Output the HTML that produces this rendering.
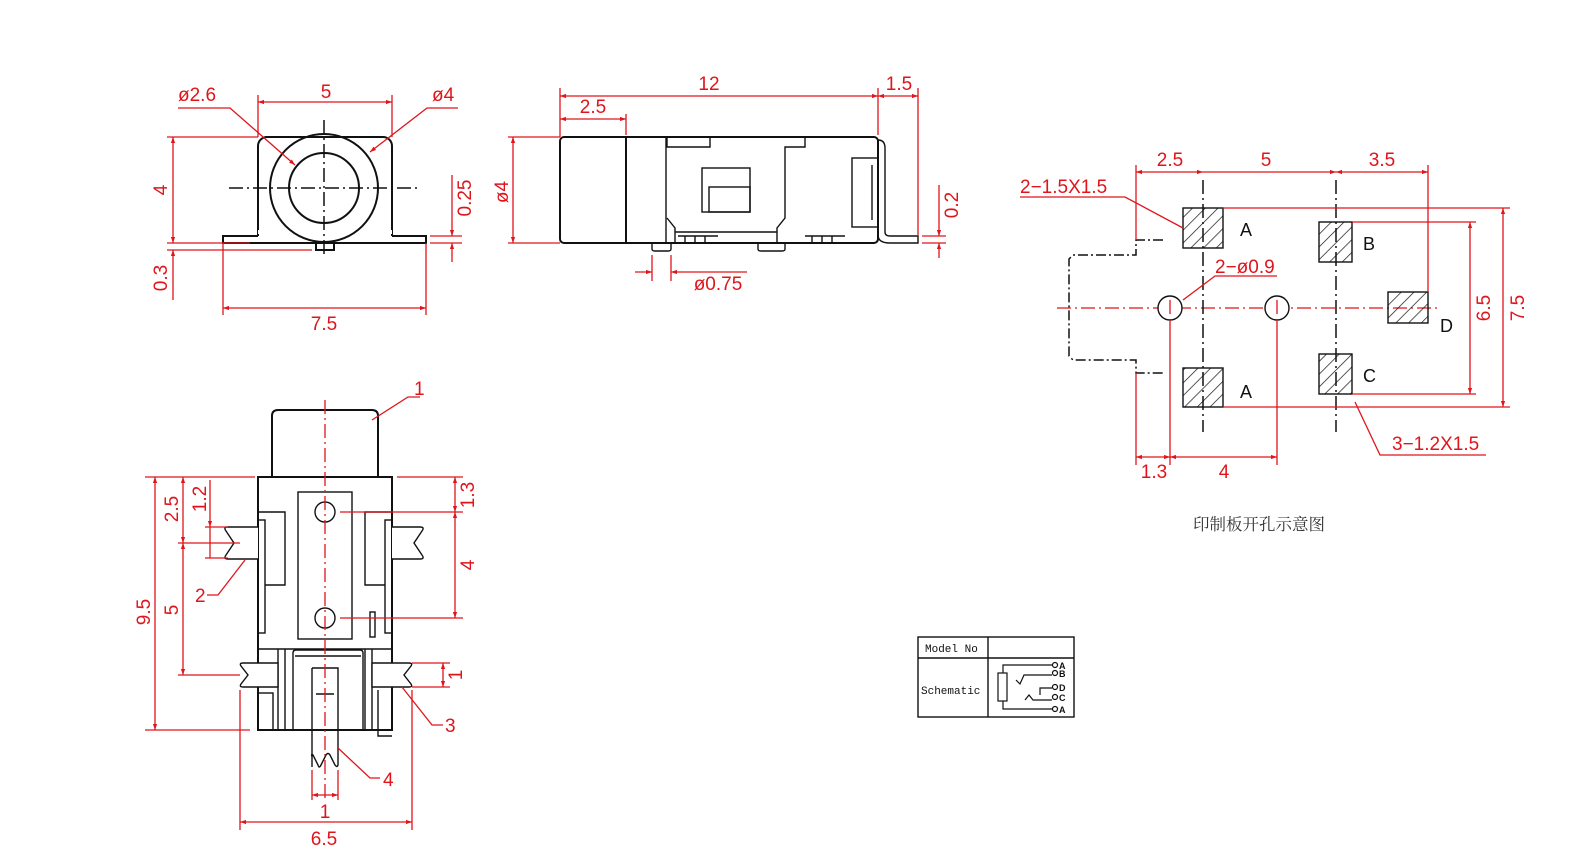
<!DOCTYPE html>
<html><head><meta charset="utf-8"><style>
html,body{margin:0;padding:0;background:#fff}
svg{display:block}
.k{stroke:#111;stroke-width:2;fill:none}
.kt{stroke:#111;stroke-width:1.4;fill:none}
.r{stroke:#e0151b;stroke-width:1.3;fill:none}
.cl{stroke:#111;stroke-width:1.5;fill:none;stroke-dasharray:14 4 2 4}
.rcl{stroke:#e0151b;stroke-width:1.3;fill:none;stroke-dasharray:14 4 2 4}
.dl{stroke:#111;stroke-width:1.5;fill:none;stroke-dasharray:10 3 2 3}
text{font-family:"Liberation Sans",sans-serif}
.t{fill:#e0151b;font-size:19px}
.b{fill:#111;font-size:18px}
</style></head><body>
<svg width="1596" height="862" viewBox="0 0 1596 862" xmlns="http://www.w3.org/2000/svg">
<defs>
<marker id="a" viewBox="0 0 10 10" refX="10" refY="5" markerWidth="10" markerHeight="6" orient="auto-start-reverse" markerUnits="userSpaceOnUse"><path d="M0,1.5 L10,5 L0,8.5 z" fill="#e0151b"/></marker>
<pattern id="h" width="9" height="9" patternUnits="userSpaceOnUse" patternTransform="rotate(45)"><line x1="0" y1="0" x2="0" y2="9" stroke="#111" stroke-width="1.4"/></pattern>
</defs>

<!-- ===== FRONT VIEW ===== -->
<rect x="258" y="137" width="134" height="106" rx="9" class="k"/>
<rect x="223" y="236" width="203" height="7" class="k" style="fill:#fff"/>
<rect x="258" y="230" width="134" height="13" fill="#fff"/>
<path d="M258,236 V234 M392,236 V234" class="k"/>
<line x1="258" y1="243" x2="392" y2="243" class="k"/>
<rect x="316" y="243" width="18" height="7" class="k"/>
<circle cx="324" cy="188" r="54" class="k"/>
<circle cx="324" cy="188" r="35" class="k"/>
<line x1="229" y1="188" x2="419" y2="188" class="cl"/>
<line x1="324" y1="120" x2="324" y2="258" class="cl"/>
<line x1="258" y1="95" x2="258" y2="137" class="r"/><line x1="392" y1="95" x2="392" y2="137" class="r"/>
<line x1="258" y1="102" x2="392" y2="102" class="r" marker-start="url(#a)" marker-end="url(#a)"/>
<text x="326" y="98" class="t" text-anchor="middle">5</text>
<text x="178" y="101" class="t">ø2.6</text>
<polyline points="178,108 230,108 295,165" class="r" marker-end="url(#a)"/>
<text x="432" y="101" class="t">ø4</text>
<polyline points="458,108 427,108 370,152" class="r" marker-end="url(#a)"/>
<line x1="167" y1="137" x2="258" y2="137" class="r"/>
<line x1="167" y1="243" x2="250" y2="243" class="r"/>
<line x1="167" y1="250" x2="312" y2="250" class="r"/>
<line x1="173" y1="137" x2="173" y2="243" class="r" marker-start="url(#a)" marker-end="url(#a)"/>
<text transform="translate(167,190) rotate(-90)" class="t" text-anchor="middle">4</text>
<line x1="173" y1="250" x2="173" y2="300" class="r" marker-start="url(#a)"/>
<text transform="translate(167,278) rotate(-90)" class="t" text-anchor="middle">0.3</text>
<line x1="223" y1="243" x2="223" y2="315" class="r"/><line x1="426" y1="243" x2="426" y2="315" class="r"/>
<line x1="223" y1="308" x2="426" y2="308" class="r" marker-start="url(#a)" marker-end="url(#a)"/>
<text x="324" y="330" class="t" text-anchor="middle">7.5</text>
<line x1="430" y1="236" x2="462" y2="236" class="r"/><line x1="430" y1="243" x2="462" y2="243" class="r"/>
<line x1="452" y1="175" x2="452" y2="236" class="r" marker-end="url(#a)"/>
<line x1="452" y1="262" x2="452" y2="243" class="r" marker-end="url(#a)"/>
<text transform="translate(471,198) rotate(-90)" class="t" text-anchor="middle">0.25</text>

<!-- ===== SIDE VIEW ===== -->
<rect x="560" y="137" width="318" height="106" rx="4" class="k"/>
<line x1="626" y1="137" x2="626" y2="243" class="k"/>
<line x1="666" y1="137" x2="666" y2="243" class="kt"/>
<polyline points="667,137 667,147 710,147 710,137" class="kt"/>
<polyline points="805,137 805,147 785,147 785,218 777,228 777,243" class="kt"/>
<polyline points="667,218 675,228 675,243" class="kt"/>
<rect x="702" y="168" width="48" height="44" class="kt"/>
<rect x="709" y="187" width="41" height="25" class="kt"/>
<rect x="852" y="158" width="26" height="69" class="kt"/>
<line x1="872" y1="165" x2="872" y2="220" class="kt"/>
<line x1="675" y1="232" x2="777" y2="232" class="kt"/>
<path d="M678,236 h40 M805,236 h40" class="kt"/>
<path d="M685,236 v7 M695,236 v7 M705,236 v7 M812,236 v7 M822,236 v7 M832,236 v7" class="kt" />
<path d="M878,140 q7,0 7,8 V232 q0,4 5,4 H918 V243 H890 q-12,0 -12,-8" class="kt"/>
<path d="M652,243 v6 q0,2 3,2 h13 q3,0 3,-2 v-6" class="kt"/>
<path d="M758,243 v6 q0,2 3,2 h21 q3,0 3,-2 v-6" class="kt"/>
<line x1="560" y1="88" x2="560" y2="137" class="r"/>
<line x1="878" y1="88" x2="878" y2="135" class="r"/>
<line x1="918" y1="88" x2="918" y2="236" class="r"/>
<line x1="560" y1="96" x2="878" y2="96" class="r" marker-start="url(#a)" marker-end="url(#a)"/>
<text x="709" y="90" class="t" text-anchor="middle">12</text>
<line x1="878" y1="96" x2="918" y2="96" class="r" marker-start="url(#a)" marker-end="url(#a)"/>
<text x="899" y="90" class="t" text-anchor="middle">1.5</text>
<line x1="626" y1="114" x2="626" y2="135" class="r"/>
<line x1="560" y1="119" x2="626" y2="119" class="r" marker-start="url(#a)" marker-end="url(#a)"/>
<text x="593" y="113" class="t" text-anchor="middle">2.5</text>
<line x1="508" y1="137" x2="560" y2="137" class="r"/><line x1="508" y1="243" x2="560" y2="243" class="r"/>
<line x1="513" y1="137" x2="513" y2="243" class="r" marker-start="url(#a)" marker-end="url(#a)"/>
<text transform="translate(508,192) rotate(-90)" class="t" text-anchor="middle">ø4</text>
<line x1="652" y1="255" x2="652" y2="281" class="r"/><line x1="671" y1="255" x2="671" y2="281" class="r"/>
<line x1="635" y1="272" x2="652" y2="272" class="r" marker-end="url(#a)"/>
<line x1="747" y1="272" x2="671" y2="272" class="r" marker-end="url(#a)"/>
<text x="718" y="290" class="t" text-anchor="middle">ø0.75</text>
<line x1="922" y1="236" x2="946" y2="236" class="r"/><line x1="922" y1="243" x2="946" y2="243" class="r"/>
<line x1="939" y1="185" x2="939" y2="236" class="r" marker-end="url(#a)"/>
<line x1="939" y1="258" x2="939" y2="243" class="r" marker-end="url(#a)"/>
<text transform="translate(958,205) rotate(-90)" class="t" text-anchor="middle">0.2</text>

<!-- ===== BOTTOM VIEW ===== -->
<path d="M272,477 V416 q0,-6 6,-6 H372 q6,0 6,6 V477" class="k"/>
<rect x="258" y="477" width="134" height="253" class="k"/>
<rect x="298" y="492" width="54" height="147" class="kt"/>
<circle cx="325" cy="512" r="10" class="kt"/>
<circle cx="325" cy="618" r="10" class="kt"/>
<polyline points="258,512 285,512 285,585 265,585" class="kt"/>
<rect x="258" y="520" width="7" height="113" class="kt"/>
<polyline points="392,512 365,512 365,585 385,585" class="kt"/>
<rect x="385" y="520" width="7" height="113" class="kt"/>
<rect x="370" y="612" width="5" height="25" class="kt"/>
<path d="M258,527 H228 q-5,0 -2,4 l8,12 l-8,12 q-3,4 2,4 H258" class="kt" style="fill:#fff"/>
<path d="M392,527 H420 q5,0 2,4 l-8,12 l8,12 q3,4 -2,4 H392" class="kt" style="fill:#fff"/>
<line x1="258" y1="649" x2="392" y2="649" class="kt"/>
<path d="M278,649 V730 M285,649 V730 M365,649 V730 M372,649 V730" class="kt"/>
<path d="M293,730 V653 q0,-3 3,-3 H360 q3,0 3,3 V730" class="kt"/>
<line x1="295" y1="656" x2="361" y2="656" class="kt"/>
<path d="M258,663 H243 q-4,0 -2,3 l7,9 l-7,9 q-2,3 2,3 H278 V663 z" class="kt" style="fill:#fff"/>
<path d="M372,663 H409 q4,0 2,3 l-7,9 l7,9 q2,3 -2,3 H372 z" class="kt" style="fill:#fff"/>
<rect x="258" y="693" width="15" height="37" class="kt"/>
<polyline points="378,690 378,736 392,736" class="kt"/>
<path d="M312,668 H338 V765 q-1,3 -3,0 l-5,-10 q-2,-3 -4,0 l-5,10 q-2,4 -3,0 l-5,-10 q-2,-2 -1,2 M312,668 V767" class="kt"/>
<line x1="316" y1="694" x2="334" y2="694" class="kt"/>
<line x1="325" y1="400" x2="325" y2="800" class="rcl"/>
<line x1="145" y1="477" x2="255" y2="477" class="r"/>
<line x1="145" y1="730" x2="250" y2="730" class="r"/>
<line x1="155" y1="477" x2="155" y2="730" class="r" marker-start="url(#a)" marker-end="url(#a)"/>
<text transform="translate(150,612) rotate(-90)" class="t" text-anchor="middle">9.5</text>
<line x1="178" y1="543" x2="240" y2="543" class="r"/>
<line x1="183" y1="477" x2="183" y2="543" class="r" marker-start="url(#a)" marker-end="url(#a)"/>
<text transform="translate(178,509) rotate(-90)" class="t" text-anchor="middle">2.5</text>
<line x1="205" y1="527" x2="228" y2="527" class="r"/><line x1="205" y1="558" x2="228" y2="558" class="r"/>
<line x1="210" y1="480" x2="210" y2="527" class="r" marker-end="url(#a)"/>
<line x1="210" y1="558" x2="210" y2="527" class="r"/>
<text transform="translate(206,499) rotate(-90)" class="t" text-anchor="middle">1.2</text>
<line x1="178" y1="675" x2="240" y2="675" class="r"/>
<line x1="183" y1="543" x2="183" y2="675" class="r" marker-start="url(#a)" marker-end="url(#a)"/>
<text transform="translate(178,610) rotate(-90)" class="t" text-anchor="middle">5</text>
<line x1="397" y1="477" x2="463" y2="477" class="r"/>
<line x1="340" y1="512" x2="463" y2="512" class="r"/>
<line x1="340" y1="618" x2="463" y2="618" class="r"/>
<line x1="455" y1="477" x2="455" y2="512" class="r" marker-start="url(#a)" marker-end="url(#a)"/>
<text transform="translate(474,495) rotate(-90)" class="t" text-anchor="middle">1.3</text>
<line x1="455" y1="512" x2="455" y2="618" class="r" marker-start="url(#a)" marker-end="url(#a)"/>
<text transform="translate(474,565) rotate(-90)" class="t" text-anchor="middle">4</text>
<line x1="412" y1="663" x2="450" y2="663" class="r"/><line x1="412" y1="687" x2="450" y2="687" class="r"/>
<line x1="443" y1="663" x2="443" y2="687" class="r" marker-start="url(#a)" marker-end="url(#a)"/>
<text transform="translate(462,675) rotate(-90)" class="t" text-anchor="middle">1</text>
<line x1="240" y1="690" x2="240" y2="830" class="r"/><line x1="412" y1="690" x2="412" y2="830" class="r"/>
<line x1="240" y1="822" x2="412" y2="822" class="r" marker-start="url(#a)" marker-end="url(#a)"/>
<text x="324" y="845" class="t" text-anchor="middle">6.5</text>
<line x1="312" y1="770" x2="312" y2="800" class="r"/><line x1="338" y1="770" x2="338" y2="800" class="r"/>
<line x1="312" y1="795" x2="338" y2="795" class="r" marker-start="url(#a)" marker-end="url(#a)"/>
<text x="325" y="818" class="t" text-anchor="middle">1</text>
<polyline points="372,420 408,397 420,397" class="r"/>
<text x="414" y="395" class="t">1</text>
<polyline points="245,560 218,595 207,595" class="r"/>
<text x="195" y="602" class="t">2</text>
<polyline points="402,687 432,725 443,725" class="r"/>
<text x="445" y="732" class="t">3</text>
<polyline points="338,748 370,778 380,778" class="r"/>
<text x="383" y="786" class="t">4</text>

<!-- ===== PCB LAYOUT ===== -->
<polyline points="1163,240 1136,240 1136,255 1073,255 1069,259 1069,356 1073,360 1136,360 1136,373 1163,373" class="dl"/>
<line x1="1057" y1="308" x2="1440" y2="308" class="rcl"/>
<line x1="1203" y1="180" x2="1203" y2="432" class="cl"/>
<line x1="1336" y1="180" x2="1336" y2="432" class="cl"/>
<rect x="1183" y="208" width="40" height="40" class="kt" style="fill:url(#h)"/>
<rect x="1319" y="222" width="33" height="40" class="kt" style="fill:url(#h)"/>
<rect x="1388" y="292" width="40" height="31" class="kt" style="fill:url(#h)"/>
<rect x="1319" y="354" width="33" height="40" class="kt" style="fill:url(#h)"/>
<rect x="1183" y="368" width="40" height="39" class="kt" style="fill:url(#h)"/>
<circle cx="1170" cy="308" r="12" class="kt" style="fill:#fff"/>
<circle cx="1277" cy="308" r="12" class="kt" style="fill:#fff"/>
<line x1="1170" y1="300" x2="1170" y2="316" class="rcl"/>
<line x1="1277" y1="300" x2="1277" y2="316" class="rcl"/>
<text x="1240" y="236" class="b">A</text>
<text x="1363" y="250" class="b">B</text>
<text x="1440" y="332" class="b">D</text>
<text x="1363" y="382" class="b">C</text>
<text x="1240" y="398" class="b">A</text>
<line x1="1136" y1="165" x2="1136" y2="240" class="r"/>
<line x1="1428" y1="165" x2="1428" y2="292" class="r"/>
<line x1="1136" y1="172" x2="1203" y2="172" class="r" marker-start="url(#a)" marker-end="url(#a)"/>
<line x1="1203" y1="172" x2="1336" y2="172" class="r" marker-end="url(#a)"/>
<line x1="1336" y1="172" x2="1428" y2="172" class="r" marker-start="url(#a)" marker-end="url(#a)"/>
<text x="1170" y="166" class="t" text-anchor="middle">2.5</text>
<text x="1266" y="166" class="t" text-anchor="middle">5</text>
<text x="1382" y="166" class="t" text-anchor="middle">3.5</text>
<line x1="1352" y1="222" x2="1476" y2="222" class="r"/>
<line x1="1352" y1="394" x2="1476" y2="394" class="r"/>
<line x1="1470" y1="222" x2="1470" y2="394" class="r" marker-start="url(#a)" marker-end="url(#a)"/>
<text transform="translate(1490,308) rotate(-90)" class="t" text-anchor="middle">6.5</text>
<line x1="1223" y1="208" x2="1510" y2="208" class="r"/>
<line x1="1223" y1="407" x2="1510" y2="407" class="r"/>
<line x1="1503" y1="208" x2="1503" y2="407" class="r" marker-start="url(#a)" marker-end="url(#a)"/>
<text transform="translate(1524,308) rotate(-90)" class="t" text-anchor="middle">7.5</text>
<line x1="1136" y1="373" x2="1136" y2="465" class="r"/>
<line x1="1170" y1="320" x2="1170" y2="465" class="r"/>
<line x1="1277" y1="320" x2="1277" y2="465" class="r"/>
<line x1="1136" y1="457" x2="1170" y2="457" class="r" marker-start="url(#a)" marker-end="url(#a)"/>
<line x1="1170" y1="457" x2="1277" y2="457" class="r" marker-start="url(#a)" marker-end="url(#a)"/>
<text x="1154" y="478" class="t" text-anchor="middle">1.3</text>
<text x="1224" y="478" class="t" text-anchor="middle">4</text>
<text x="1020" y="193" class="t">2−1.5X1.5</text>
<polyline points="1020,197 1125,197 1183,228" class="r"/>
<text x="1215" y="273" class="t">2−ø0.9</text>
<polyline points="1277,276 1215,276 1183,300" class="r"/>
<text x="1392" y="450" class="t">3−1.2X1.5</text>
<polyline points="1486,455 1380,455 1355,402" class="r"/>
<text x="1259" y="530" text-anchor="middle" style="font-family:'Noto Serif CJK SC','Liberation Serif',serif;font-size:16.5px;fill:#333">印制板开孔示意图</text>

<!-- ===== TABLE ===== -->
<rect x="918" y="637" width="156" height="80" class="kt"/>
<line x1="988" y1="637" x2="988" y2="717" class="kt"/>
<line x1="918" y1="658" x2="1074" y2="658" class="kt"/>
<text x="925" y="652" style="font-family:'Liberation Mono',monospace;font-size:11px;fill:#111">Model No</text>
<text x="921" y="694" style="font-family:'Liberation Mono',monospace;font-size:11px;fill:#111">Schematic</text>
<g class="kt" style="stroke-width:1.2">
<rect x="998" y="673" width="9" height="28"/>
<polyline points="1003,673 1003,665 1052,665"/>
<polyline points="1003,701 1003,709 1052,709"/>
<polyline points="1016,680 1020,684 1024,675 1052,675"/>
<polyline points="1025,700 1029,695 1033,700 1052,700"/>
<polyline points="1052,688 1040,688 1040,695"/>
<circle cx="1055" cy="665" r="2.5"/><circle cx="1055" cy="673" r="2.5"/><circle cx="1055" cy="687" r="2.5"/><circle cx="1055" cy="697" r="2.5"/><circle cx="1055" cy="709" r="2.5"/>
</g>
<g style="font-family:'Liberation Sans',sans-serif;font-size:9px;font-weight:bold;fill:#111">
<text x="1059" y="669">A</text><text x="1059" y="677">B</text><text x="1059" y="691">D</text><text x="1059" y="701">C</text><text x="1059" y="713">A</text>
</g>
</svg>
</body></html>
